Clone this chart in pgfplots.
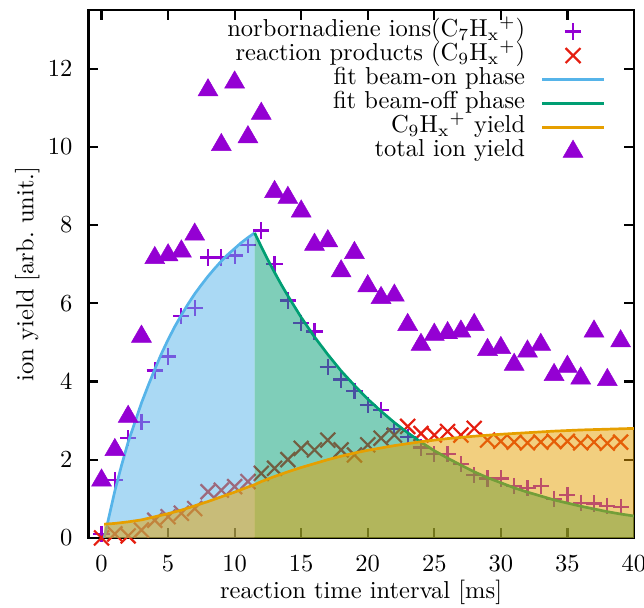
\documentclass[border=0pt]{standalone}
\usepackage{pgfplots}
\pgfplotsset{compat=1.18}
\usepackage{pgfplotstable}

\definecolor{gpviolet}{HTML}{9400D3}
\definecolor{gpred}{HTML}{E51E10}
\definecolor{gpblue}{HTML}{56B4E9}
\definecolor{gpgreen}{HTML}{009E73}
\definecolor{gporange}{HTML}{E69F00}

% norbornadiene ions (C7Hx+)
\pgfplotstableread{
x y
0 0.10
1 1.48
2 2.55
3 2.97
4 4.28
5 4.64
6 5.68
7 5.88
8 7.17
9 7.17
10 7.22
11 7.50
12 7.86
13 7.00
14 6.07
15 5.50
16 5.28
17 4.38
18 4.05
19 3.75
20 3.40
21 3.28
22 2.78
23 2.58
24 2.31
25 2.14
26 2.14
27 1.88
28 1.60
29 1.52
30 1.52
31 1.33
32 1.27
33 1.33
34 1.00
35 1.10
36 0.90
37 0.88
38 0.82
39 0.78
}\cseven

% reaction products (C9Hx+)
\pgfplotstableread{
x y
0 0.00
1 0.10
2 0.05
3 0.20
4 0.45
5 0.54
6 0.63
7 0.75
8 1.18
9 1.22
10 1.31
11 1.44
12 1.65
13 1.78
14 2.00
15 2.29
16 2.25
17 2.50
18 2.25
19 2.12
20 2.38
21 2.55
22 2.63
23 2.85
24 2.67
25 2.63
26 2.72
27 2.63
28 2.80
29 2.50
30 2.47
31 2.45
32 2.43
33 2.45
34 2.47
35 2.47
36 2.43
37 2.45
38 2.42
39 2.45
}\cnine

% total ion yield
\pgfplotstableread{
x y
0 1.47
1 2.25
2 3.10
3 5.15
4 7.16
5 7.23
6 7.33
7 7.76
8 11.45
9 10.05
10 11.65
11 10.25
12 10.85
13 8.85
14 8.70
15 8.35
16 7.50
17 7.59
18 6.82
19 7.29
20 6.44
21 6.14
22 6.20
23 5.45
24 4.94
25 5.20
26 5.24
27 5.28
28 5.45
29 4.81
30 4.86
31 4.43
32 4.77
33 4.94
34 4.17
35 4.38
36 4.08
37 5.28
38 4.04
39 5.03
}\total

% fit, beam-on phase
\pgfplotstableread{
x y
0.2 0.00
0.5 0.45
1.0 1.20
1.5 1.85
2.0 2.45
2.5 2.95
3.0 3.45
3.5 3.89
4.0 4.31
4.5 4.71
5.0 5.07
5.5 5.40
6.0 5.70
6.5 5.98
7.0 6.24
7.5 6.47
8.0 6.69
8.5 6.89
9.0 7.08
9.5 7.25
10.0 7.40
10.5 7.55
11.0 7.68
11.5 7.80
}\beamon

% fit, beam-off phase
\pgfplotstableread{
x y
11.5 7.80
12 7.45
12.5 7.11
13 6.79
13.5 6.48
14 6.19
15 5.64
16 5.14
17 4.69
18 4.27
19 3.90
20 3.55
21 3.24
22 2.95
23 2.69
24 2.45
25 2.23
26 2.04
27 1.86
28 1.69
29 1.54
30 1.41
31 1.28
32 1.17
33 1.07
34 0.97
35 0.89
36 0.81
37 0.74
38 0.67
39 0.61
40 0.56
}\beamoff

% C9Hx+ yield
\pgfplotstableread{
x y
0.2 0.35
1 0.37
2 0.41
3 0.46
4 0.54
5 0.62
6 0.71
7 0.82
8 0.93
9 1.05
10 1.17
11 1.30
11.5 1.36
12 1.44
13 1.57
14 1.69
15 1.80
16 1.90
17 2.00
18 2.09
19 2.17
20 2.24
22 2.36
24 2.46
26 2.54
28 2.60
30 2.65
32 2.69
34 2.73
36 2.76
38 2.78
40 2.80
}\yield

\begin{document}
\begin{tikzpicture}
\begin{axis}[
  scale only axis, width=222.7pt, height=215.4pt,
  xmin=-1, xmax=40, ymin=0, ymax=13.5,
  xtick={0,5,...,40}, ytick={0,2,...,12},
  tick align=inside, major tick length=4pt,
  tick style={black, line width=0.9pt},
  axis line style={line width=1.1pt},
  xticklabel style={yshift=-3.7pt},
  yticklabel style={xshift=-2.9pt},
  xlabel={reaction time interval [ms]},
  ylabel={ion yield [arb.~unit.]},
  xlabel style={at={(axis description cs:0.5,-0.1142)}, anchor=base},
  ylabel style={at={(axis description cs:-0.1006,0.5)}, anchor=base, rotate=0},
  clip mode=individual,
  legend cell align=right, legend plot pos=right,
  legend style={draw=none, fill=none, inner sep=0pt, outer sep=0pt,
    at={(0.947,0.982)}, anchor=north east, column sep=6.5pt, row sep=0pt,
    nodes={inner sep=0pt, text height=7pt, text depth=2.8pt}},
  legend image code/.code={\draw[mark repeat=2,mark phase=2,#1]
    plot coordinates {(0pt,0pt) (12.5pt,0pt) (25pt,0pt)};},
]
\addplot[only marks, mark=+, mark size=3.3pt, gpviolet,
  mark options={line width=0.9pt}] table {\cseven};
\addlegendentry{norbornadiene ions(C$_7$H$_\mathrm{x}{}^+$)}
\addplot[only marks, mark=x, mark size=4.3pt, gpred,
  mark options={line width=0.9pt}] table {\cnine};
\addlegendentry{reaction products (C$_9$H$_\mathrm{x}{}^+$)}

\addplot[draw=none, fill=gpblue, fill opacity=0.5, forget plot]
  table {\beamon} \closedcycle;
\addplot[gpblue, line width=1.1pt] table {\beamon};
\addlegendentry{fit beam-on phase}

\addplot[draw=none, fill=gpgreen, fill opacity=0.5, forget plot]
  table {\beamoff} \closedcycle;
\addplot[gpgreen, line width=1.1pt] table {\beamoff};
\addlegendentry{fit beam-off phase}

\addplot[draw=none, fill=gporange, fill opacity=0.5, forget plot]
  table {\yield} \closedcycle;
\addplot[gporange, line width=1.1pt] table {\yield};
\addlegendentry{C$_9$H$_\mathrm{x}{}^+$ yield}

\addplot[only marks, mark=triangle*, mark size=4.7pt,
  mark options={fill=gpviolet, draw=gpviolet, line width=0.2pt}] table {\total};
\addlegendentry{total ion yield}
\end{axis}
\pgfresetboundingbox
\path (current axis.south west) ++(-36pt,-28.3pt) coordinate (bbsw);
\path (current axis.north east) ++(4.1pt,4.1pt) coordinate (bbne);
\path (bbsw) rectangle (bbne);
\end{tikzpicture}
\end{document}
